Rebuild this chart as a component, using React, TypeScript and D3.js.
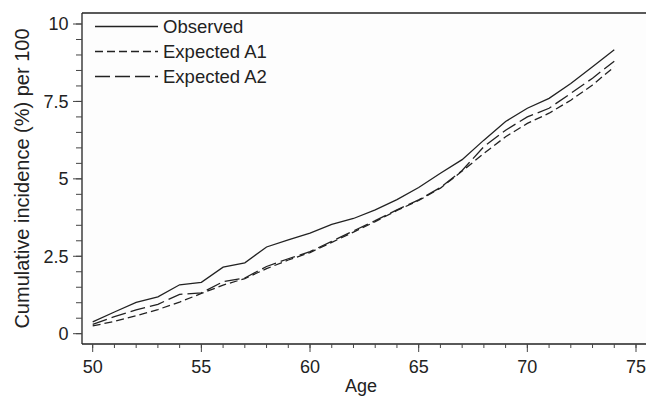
import React from "react";
import * as d3 from "d3";

const ages = [50,51,52,53,54,55,56,57,58,59,60,61,62,63,64,65,66,67,68,69,70,71,72,73,74];
const observed = [0.38,0.7,1.01,1.19,1.58,1.66,2.15,2.29,2.8,3.03,3.25,3.53,3.72,4.0,4.33,4.72,5.18,5.62,6.25,6.85,7.28,7.6,8.08,8.62,9.17];
const expectedA2 = [0.3,0.55,0.77,0.95,1.27,1.32,1.68,1.8,2.17,2.42,2.65,2.98,3.32,3.65,4.0,4.32,4.72,5.27,6.04,6.57,7.0,7.28,7.76,8.25,8.8];
const expectedA1 = [0.25,0.4,0.58,0.78,1.02,1.3,1.57,1.78,2.1,2.38,2.62,2.95,3.28,3.62,3.98,4.3,4.7,5.25,5.82,6.36,6.79,7.12,7.54,8.03,8.62];
const xTicks = [50,55,60,65,70,75];
const yTicks = [0,2.5,5,7.5,10];
const yTickLabels = ["0","2.5","5","7.5","10"];
const seriesNames = ["Observed","Expected A1","Expected A2"];

export default function App() {
  const W = 646, H = 397;
  const left = 82, top = 13, bottom = 344;
  const x = d3.scaleLinear().domain([50, 75]).range([92.7, 636]);
  const y = d3.scaleLinear().domain([0, 10]).range([333.7, 24]);
  const line = d3.line<number>().x((_, i) => x(ages[i])).y(d => y(d));
  const series = [
    { name: seriesNames[0], data: observed, dash: "none" },
    { name: seriesNames[1], data: expectedA1, dash: "8,4" },
    { name: seriesNames[2], data: expectedA2, dash: "15,5" },
  ];
  const minorY = d3.range(0, 10.001, 0.5);
  const minorX = d3.range(50, 75.001, 1);
  const font = "Liberation Sans, Arial, Helvetica, sans-serif";
  const ink = "#222";
  return (
    <svg width={W} height={H} style={{ position: "absolute", left: 0, top: 0 }} fontFamily={font}>
      <rect x={0} y={0} width={W} height={H} fill="#fff" />
      <rect x={left} y={top} width={W - left} height={bottom - top} fill="#fdfdfd" />
      {/* frame */}
      <line x1={left} y1={top} x2={W} y2={top} stroke={ink} strokeWidth={1.3} />
      <line x1={left} y1={top} x2={left} y2={bottom} stroke={ink} strokeWidth={1.3} />
      <line x1={left} y1={bottom} x2={W} y2={bottom} stroke={ink} strokeWidth={1.3} />
      {/* y ticks */}
      {minorY.map(v => (
        <line key={"my" + v} x1={left - 6} x2={left} y1={y(v)} y2={y(v)} stroke="#444" strokeWidth={1} />
      ))}
      {yTicks.map((v, i) => (
        <g key={"y" + v}>
          <line x1={left - 9} x2={left} y1={y(v)} y2={y(v)} stroke="#444" strokeWidth={1} />
          <text x={68.5} y={y(v)} dy="0.36em" textAnchor="end" fontSize={18} fill={ink}>{yTickLabels[i]}</text>
        </g>
      ))}
      {/* x ticks */}
      {minorX.map(v => (
        <line key={"mx" + v} x1={x(v)} x2={x(v)} y1={bottom} y2={bottom + 4} stroke="#444" strokeWidth={1} />
      ))}
      {xTicks.map(v => (
        <g key={"x" + v}>
          <line x1={x(v)} x2={x(v)} y1={bottom} y2={bottom + 8} stroke="#444" strokeWidth={1} />
          <text x={x(v)} y={373} textAnchor="middle" fontSize={18} fill={ink}>{v}</text>
        </g>
      ))}
      <text x={361} y={392} textAnchor="middle" fontSize={18} fill={ink}>Age</text>
      <text transform={`translate(28.5,${(top + bottom) / 2}) rotate(-90)`} textAnchor="middle" fontSize={20} fill={ink}>
        Cumulative incidence (%) per 100
      </text>
      {/* lines */}
      {series.map(s => (
        <path key={s.name} d={line(s.data) || ""} fill="none" stroke={ink} strokeWidth={1.3}
          strokeDasharray={s.dash === "none" ? undefined : s.dash} />
      ))}
      {/* legend */}
      {series.map((s, i) => {
        const ly = 26.5 + i * 25;
        return (
          <g key={"lg" + s.name}>
            <line x1={95} x2={158} y1={ly} y2={ly} stroke={ink} strokeWidth={1.3}
              strokeDasharray={s.dash === "none" ? undefined : s.dash} />
            <text x={163} y={ly} dy="0.36em" fontSize={18.5} fill={ink}>{s.name}</text>
          </g>
        );
      })}
    </svg>
  );
}
